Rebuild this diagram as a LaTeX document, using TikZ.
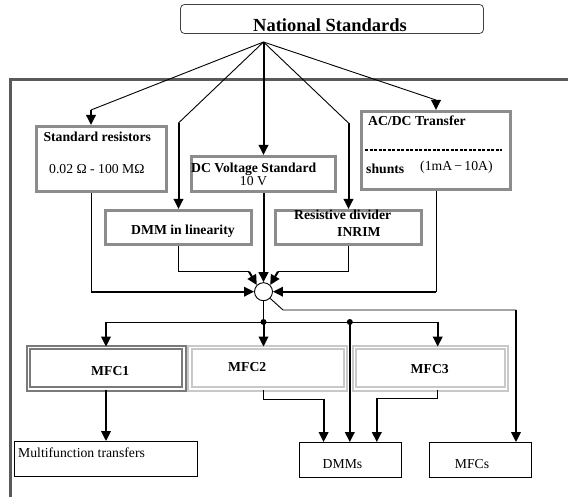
\documentclass[tikz,border=0pt]{standalone}
\usepackage{fontspec}
\setmainfont{Liberation Serif}
\usepackage{xcolor}
\usepackage{tikz}
\usetikzlibrary{arrows.meta, positioning, calc}
\definecolor{boxgray}{HTML}{8C8C8C}
\definecolor{framegray}{HTML}{5A5A5A}
\definecolor{mfcdark}{HTML}{7A7A7A}
\definecolor{mfclight}{HTML}{C8C8C8}

\begin{document}
\begin{tikzpicture}[x=1pt, y=-1pt,
  gbox/.style={draw=boxgray, line width=2.6pt, fill=white, inner sep=0pt},
  mbox/.style={double=white, double distance=1.3pt, line width=2pt, fill=white, inner sep=0pt, minimum height=41.4pt},
  wbox/.style={draw=black, line width=0.8pt, inner sep=0pt, minimum height=35pt},
  bt/.style={font=\fontsize{13.7}{16}\selectfont\bfseries, inner sep=0pt, anchor=base west},
  rt/.style={font=\fontsize{13.7}{16}\selectfont, inner sep=0pt, anchor=base west},
  wire/.style={line width=0.9pt},
  feed/.style={line width=2pt, -{Triangle[length=10pt, width=9.5pt]}}]
\useasboundingbox (0,0) rectangle (568,497);
\draw[framegray, line width=3pt] (10,497) -- (10,80) -- (568,80);
\node[draw=black!75, rounded corners=4pt, line width=0.8pt, minimum width=303pt, minimum height=29pt, inner sep=0pt] (ns) at (332,19) {};
\node[font=\fontsize{18.5}{20}\selectfont\bfseries, inner sep=0pt, anchor=base] (nstext) at (330,32) {National Standards};
\coordinate (apex) at (263.5,42);
\node[gbox, minimum width=130.5pt, minimum height=65.5pt] (sr) at (101.5,159) {};
\node[gbox, minimum width=144.5pt, minimum height=35.5pt] (dc) at (263.5,174) {};
\node[gbox, minimum width=149.5pt, minimum height=78.5pt] (acdc) at (436,150.5) {};
\node[gbox, minimum width=146.5pt, minimum height=34.5pt] (dmml) at (178.5,227.5) {};
\node[gbox, minimum width=146.5pt, minimum height=34.5pt] (rdiv) at (348.5,227.5) {};
\node[bt] (srtitle) at (43.3,141.7) {Standard resistors};
\node[rt] (srrange) at (49,174) {0.02 Ω - 100 MΩ};
\node[bt] (dctitle) at (191,172.3) {DC Voltage Standard};
\node[rt, anchor=base] (dcvalue) at (253.5,186) {10 V};
\node[bt] (acdctitle) at (368,126) {AC/DC Transfer};
\draw[line width=1.3pt, dash pattern=on 3pt off 1.5pt] (365,150) -- (502,150);
\node[bt] (shunts) at (366,173.3) {shunts};
\node[rt] (shuntrange) at (420,170.5) {(1mA\,−\,10A)};
\node[bt] (dmmltext) at (131,235) {DMM in linearity};
\node[bt] (rdivtitle) at (294,220) {Resistive divider};
\node[bt] (rdivlab) at (337,236.7) {INRIM};
\coordinate (k1) at (91,110);
\coordinate (k2) at (178.5,123);
\coordinate (k3) at (348.5,123);
\coordinate (k4) at (436,100);
\draw[wire] (apex) -- (k1);
\draw[feed] (k1) -- (k1 |- sr.north);
\draw[wire] (apex) -- (k2);
\draw[feed] (k2) -- (dmml.north);
\draw[feed] (apex) -- (dc.north);
\draw[wire] (apex) -- (k3);
\draw[feed] (k3) -- (rdiv.north);
\draw[wire] (apex) -- (k4);
\draw[feed] (k4) -- (acdc.north);
\node[circle, draw, line width=0.9pt, minimum size=18pt, inner sep=0pt, fill=white] (hub) at (263.5,291.7) {};
\coordinate (m1) at (91,291.7);
\coordinate (m2) at (249,271.7);
\coordinate (m3) at (278,271.7);
\coordinate (m4) at (436,291.7);
\draw[wire] (sr.south -| m1) -- (m1);
\draw[feed] (m1) -- (hub.west);
\draw[wire] (dmml.south) |- (m2);
\draw[feed] (m2) -- (hub.north west);
\draw[feed] (dc.south) -- (hub.north);
\draw[wire] (rdiv.south) |- (m3);
\draw[feed] (m3) -- (hub.north east);
\draw[wire] (acdc.south) -- (m4);
\draw[feed] (m4) -- (hub.east);
\node[mbox, draw=mfcdark, minimum width=155.4pt] (mfc1) at (106.3,368.3) {};
\node[mbox, draw=mfclight, minimum width=155.6pt] (mfc2) at (267.8,368.3) {};
\node[mbox, draw=mfclight, minimum width=152pt] (mfc3) at (430.3,368.3) {};
\node[bt] (mfc1text) at (91,375) {MFC1};
\node[bt] (mfc2text) at (228,371.7) {MFC2};
\node[bt] (mfc3text) at (410.5,373.3) {MFC3};
\node[wbox, minimum width=183pt] (mt) at (106,459) {};
\node[wbox, minimum width=102pt] (dmms) at (350,460) {};
\node[wbox, minimum width=102pt] (mfcs) at (480,460) {};
\node[rt] (mttext) at (18,457.7) {Multifunction transfers};
\node[rt] (dmmstext) at (322.5,468.3) {DMMs};
\node[rt] (mfcstext) at (454.7,468.3) {MFCs};
\coordinate (r1) at (283,310);
\coordinate (r2) at (516,310);
\draw[wire] (hub.south east) -- (r1) -- (r2);
\draw[feed] (r2) -- (r2 |- mfcs.north);
\coordinate (j1) at (263.5,322);
\coordinate (j2) at (349.8,322);
\coordinate (s1) at (106,322);
\coordinate (s3) at (437.7,322);
\draw[wire] (hub.south) -- (j1);
\draw[wire] (s1) -- (s3);
\fill (j1) circle (3pt);
\fill (j2) circle (3pt);
\draw[feed] (s1) -- (s1 |- mfc1.north);
\draw[feed] (j1) -- (j1 |- mfc2.north);
\draw[feed] (s3) -- (s3 |- mfc3.north);
\draw[feed] (j2) -- (j2 |- dmms.north);
\draw[feed] (mfc1.south -| s1) -- (s1 |- mt.north);
\coordinate (d1) at (263.5,399);
\coordinate (d2) at (323.6,399);
\coordinate (d3) at (437.7,398);
\coordinate (d4) at (376.8,398);
\draw[wire] (mfc2.south -| j1) -- (d1) -- (d2);
\draw[feed] (d2) -- (d2 |- dmms.north);
\draw[wire] (mfc3.south -| s3) -- (d3) -- (d4);
\draw[feed] (d4) -- (d4 |- dmms.north);
\end{tikzpicture}
\end{document}
